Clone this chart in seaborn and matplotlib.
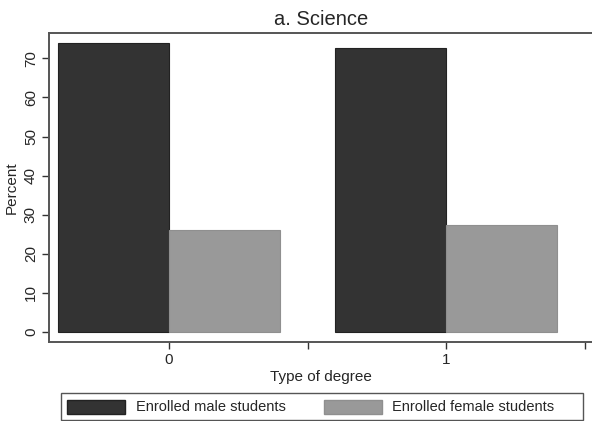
import matplotlib
matplotlib.use("Agg")
import matplotlib.pyplot as plt
import seaborn as sns
import pandas as pd
from matplotlib.patches import Patch, Rectangle

degree = ["0", "1"]
male = [74.0, 72.7]
female = [26.0, 27.3]
series = ["Enrolled male students", "Enrolled female students"]
colors = ["#333333", "#999999"]

df = pd.DataFrame({
    "Type of degree": degree * 2,
    "Percent": male + female,
    "group": [series[0]] * 2 + [series[1]] * 2,
})

sns.set_style("white")
plt.rcParams["font.family"] = ["Liberation Sans", "DejaVu Sans"]

W, H = 592, 421
fig = plt.figure(figsize=(W / 100, H / 100), dpi=100)
ax = fig.add_axes([49 / W, 1 - 342 / H, 1 - 49 / W + 0.002, (342 - 33) / H])

sns.barplot(data=df, x="Type of degree", y="Percent", hue="group",
            palette=colors, hue_order=series, order=degree,
            width=0.8, saturation=1, ax=ax, legend=False)
for p, c in zip(ax.patches, [colors[0]] * 2 + [colors[1]] * 2):
    p.set_edgecolor("#222222" if c == colors[0] else "#8f8f8f")
    p.set_linewidth(0.8)

ax.set_xlim(-0.433, 1.53)
ax.set_ylim(-2.6, 76.5)
ax.set_xticks([0, 0.5, 1, 1.5])
ax.set_xticklabels(["0", "", "1", ""], fontsize=11)
ax.set_yticks(range(0, 80, 10))
ax.set_yticklabels([str(v) for v in range(0, 80, 10)], fontsize=11,
                   rotation=90, va="center")
ax.tick_params(axis="both", direction="out", length=5, width=1.0,
               color="#333333", pad=3, left=True, bottom=True)
for side in ["left", "bottom", "top", "right"]:
    ax.spines[side].set_color("#555555")
    ax.spines[side].set_linewidth(1.4)
ax.spines["right"].set_visible(False)
ax.set_xlabel("Type of degree", fontsize=11, labelpad=2)
ax.set_ylabel("Percent", fontsize=11, labelpad=4)
ax.set_title("a. Science", fontsize=14.5, pad=6)

handles = [Patch(facecolor=colors[0], edgecolor="#222222", label=series[0]),
           Patch(facecolor=colors[1], edgecolor="#8f8f8f", label=series[1])]
leg = fig.legend(handles=handles, loc="center left", ncol=2,
                 bbox_to_anchor=(67 / W, 1 - 407 / H),
                 fontsize=10.5, frameon=False,
                 handlelength=4.0, handleheight=1.1, handletextpad=0.72,
                 columnspacing=2.6, borderpad=0, borderaxespad=0)
frame = Rectangle((61 / W, 1 - 420 / H), (583 - 61) / W, (420 - 393) / H,
                  transform=fig.transFigure, fill=False,
                  edgecolor="#555555", linewidth=1.0)
fig.add_artist(frame)

fig.savefig("out.png", dpi=100)
